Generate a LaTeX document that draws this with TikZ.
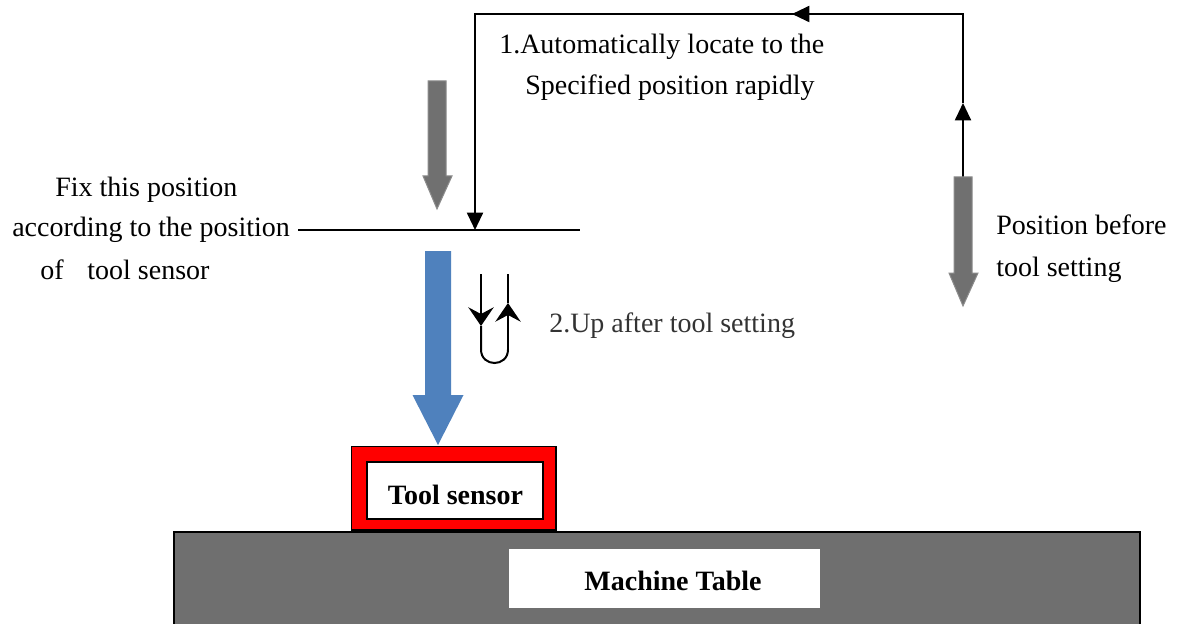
\documentclass[tikz,border=0pt]{standalone}
\usepackage{fontspec}
\setmainfont{Liberation Serif}
\usetikzlibrary{arrows.meta}
\definecolor{tablegrey}{HTML}{6F6F6F}
\definecolor{arrowgrey}{HTML}{707070}
\definecolor{arrowedge}{HTML}{8C8C8C}
\definecolor{bluearrow}{HTML}{4F81BD}
\definecolor{sensorred}{HTML}{FF0000}
\definecolor{softblack}{HTML}{333333}
\begin{document}
\begin{tikzpicture}[x=0.75pt,y=-0.75pt,
  txt/.style={font=\fontsize{21}{24}\selectfont, inner sep=0pt},
  btxt/.style={font=\fontsize{21}{24}\selectfont\bfseries, inner sep=0pt},
  route/.style={line width=1.5pt, -{Triangle[length=13pt,width=12pt]}},
  routeplain/.style={line width=1.5pt},
  uturn/.style={line width=1.5pt, -{Stealth[length=14pt,width=19pt,inset=5pt]}},
  uturnplain/.style={line width=1.5pt},
  greyarrow/.style={fill=arrowgrey, draw=arrowedge, line width=0.75pt},
  blockline/.style={draw=black, line width=1pt},
]
\useasboundingbox (0,0) rectangle (1178,624);
\fill[white] (0,0) rectangle (1178,624);

% machine table
\begin{scope}
\clip (0,0) rectangle (1178,624);
\filldraw[fill=tablegrey, blockline] (174,532) rectangle (1140,640);
\end{scope}
\fill[white] (509,549) rectangle (820,608);
\node[btxt, anchor=base] (tabletext) at (673,590) {Machine Table};

% tool sensor
\filldraw[fill=sensorred, blockline] (351.5,446.5) rectangle (556,530);
\filldraw[fill=white, blockline] (367,462) rectangle (543,519);
\node[btxt, anchor=base] (sensortext) at (455.5,504) {Tool sensor};

% blue arrow
\fill[bluearrow] (425,251) -- (451,251) -- (451,395) -- (463.5,395) -- (438,445) -- (412.5,395) -- (425,395) -- cycle;

% horizontal line
\coordinate (hl) at (298,230);
\coordinate (hr) at (580,230);
\draw[line width=1.5pt] (hl) -- (hr);

% route 1
\coordinate (r0) at (963,178);
\coordinate (r1) at (963,103);
\coordinate (r2) at (963,14);
\coordinate (r3) at (792,14);
\coordinate (r4) at (475,14);
\coordinate (r5) at (475,230);
\draw[route] (r0) -- (r1);
\draw[routeplain] (r1) -- (r2) -- (r3);
\draw[route] (r2) -- (r3);
\draw[route] (r3) -- (r4) -- (r5);

% grey arrows
\filldraw[greyarrow] (428,81) -- (446,81) -- (446,176) -- (452,176) -- (437,209) -- (423,176) -- (428,176) -- cycle;
\filldraw[greyarrow] (954,177) -- (972,177) -- (972,273) -- (978,273) -- (963,306) -- (949,273) -- (954,273) -- cycle;

% U-turn
\coordinate (u0) at (481,274);
\coordinate (u1) at (481,326);
\coordinate (u2) at (481,349.5);
\coordinate (u3) at (508,349.5);
\coordinate (u4) at (508,303);
\coordinate (u5) at (508,274);
\draw[uturn] (u0) -- (u1);
\draw[uturnplain] (u1) -- (u2) .. controls (481,367.5) and (508,367.5) .. (u3);
\draw[uturn] (u3) -- (u4);
\draw[uturnplain] (u4) -- (u5);

% texts
\node[txt, anchor=base west] (t1a) at (499,54) {1.Automatically locate to the};
\node[txt, anchor=base west] (t1b) at (525,95) {Specified position rapidly};
\node[txt, anchor=base west] (fixa) at (55,196) {Fix this position};
\node[txt, anchor=base west] (fixb) at (12,237) {according to the position};
\node[txt, anchor=base west] (fixc) at (40,279) {of\hspace{0.85em}tool sensor};
\node[txt, anchor=base west] (posa) at (996,234) {Position before};
\node[txt, anchor=base west] (posb) at (996,276) {tool setting};
\node[txt, anchor=base west, text=softblack] (upt) at (549,332) {2.Up after tool setting};
\end{tikzpicture}
\end{document}
